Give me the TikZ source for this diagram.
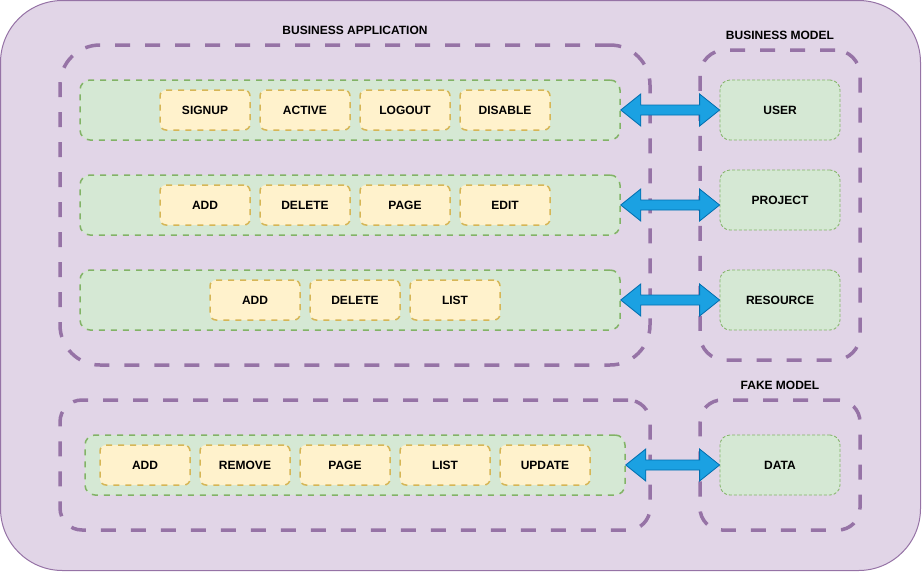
\documentclass[tikz,border=0pt]{standalone}
\usepackage{fontspec}
\setmainfont{Liberation Sans}
\usepackage{tikz}
\usetikzlibrary{calc}
\definecolor{purplefill}{HTML}{E1D5E7}
\definecolor{purpleline}{HTML}{9673A6}
\definecolor{greenfill}{HTML}{D5E8D4}
\definecolor{greenline}{HTML}{82B366}
\definecolor{yellowfill}{HTML}{FFF2CC}
\definecolor{yellowline}{HTML}{D6B656}
\definecolor{bluefill}{HTML}{1BA1E2}
\definecolor{blueline}{HTML}{006EAF}

\begin{document}
\begin{tikzpicture}[x=1pt,y=-1pt]
\tikzstyle{lbl}=[font=\bfseries\fontsize{12}{14}\selectfont,text=black]
\tikzstyle{groupbox}=[rectangle,draw=purpleline,line width=3.5pt,dash pattern=on 15pt off 15pt,inner sep=0pt]
\tikzstyle{rowbox}=[rectangle,draw=greenline,fill=greenfill,line width=1.5pt,dash pattern=on 6pt off 6pt,rounded corners=10pt,minimum width=540pt,minimum height=60pt,inner sep=0pt]
\tikzstyle{btn}=[rectangle,lbl,draw=yellowline,fill=yellowfill,line width=1.5pt,dash pattern=on 6pt off 6pt,rounded corners=6pt,minimum width=90pt,minimum height=40pt,inner sep=0pt]
\tikzstyle{modelbox}=[rectangle,lbl,draw=greenline,fill=greenfill,line width=0.8pt,dash pattern=on 3pt off 2pt,rounded corners=10pt,minimum width=120pt,minimum height=60pt,inner sep=0pt]
\tikzstyle{linkarrow}=[draw=blueline,fill=bluefill,line width=0.8pt,line join=miter]
\useasboundingbox (0,0) rectangle (922,571);
\node[rectangle,draw=purpleline,fill=purplefill,line width=1pt,rounded corners=62pt,minimum width=920pt,minimum height=570pt] (canvas) at (460.5,285.5) {};

% business application
\node[lbl] (apptitle) at (355,30) {BUSINESS APPLICATION};
\node[groupbox,rounded corners=40pt,minimum width=590pt,minimum height=320pt] (appgroup) at (355,205) {};
\node[rowbox] (row1) at (350,110) {};
\node[rowbox] (row2) at (350,205) {};
\node[rowbox] (row3) at (350,300) {};
\foreach \txt [count=\i] in {SIGNUP,ACTIVE,LOGOUT,DISABLE}
  \node[btn] (usr-\i) at (105+100*\i,110) {\txt};
\foreach \txt [count=\i] in {ADD,DELETE,PAGE,EDIT}
  \node[btn] (prj-\i) at (105+100*\i,205) {\txt};
\foreach \txt [count=\i] in {ADD,DELETE,LIST}
  \node[btn] (res-\i) at (155+100*\i,300) {\txt};

% business model
\node[lbl] (modeltitle) at (780,35) {BUSINESS MODEL};
\node[groupbox,rounded corners=25pt,minimum width=160pt,minimum height=310pt] (modelgroup) at (780,205) {};
\node[modelbox] (user) at (780,110) {USER};
\node[modelbox] (project) at (780,200) {PROJECT};
\node[modelbox] (resource) at (780,300) {RESOURCE};

% fake part
\node[groupbox,rounded corners=22pt,minimum width=590pt,minimum height=130pt] (fakegroup) at (355,465) {};
\node[rowbox] (fakerow) at (355,465) {};
\foreach \txt [count=\i] in {ADD,REMOVE,PAGE,LIST,UPDATE}
  \node[btn] (fake-\i) at (45+100*\i,465) {\txt};
\node[lbl] (faketitle) at (780,385) {FAKE MODEL};
\node[groupbox,rounded corners=22pt,minimum width=160pt,minimum height=130pt] (fakemodelgroup) at (780,465) {};
\node[modelbox] (data) at (780,465) {DATA};

% block arrows
\foreach \a/\b in {row1/user,row2/project,row3/resource,fakerow/data}
  \draw[linkarrow] let \p1=(\a.east), \p2=(\b.west) in
    (\x1,\y1) -- (\x1+20pt,\y1+16pt) -- (\x1+20pt,\y1+5pt) -- (\x2-20pt,\y1+5pt)
    -- (\x2-20pt,\y1+16pt) -- (\x2,\y1) -- (\x2-20pt,\y1-16pt) -- (\x2-20pt,\y1-5pt)
    -- (\x1+20pt,\y1-5pt) -- (\x1+20pt,\y1-16pt) -- cycle;
\end{tikzpicture}
\end{document}
